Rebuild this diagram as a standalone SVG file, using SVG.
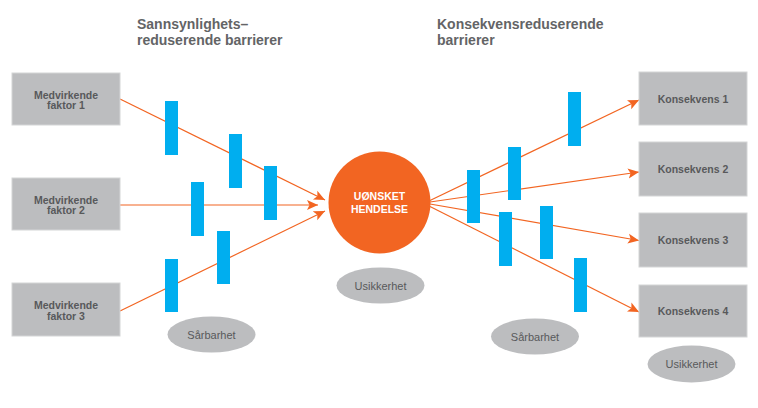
<svg xmlns="http://www.w3.org/2000/svg" width="758" height="408" viewBox="0 0 758 408">
<defs>
<marker id="arr" markerUnits="userSpaceOnUse" markerWidth="12" markerHeight="12" viewBox="0 0 12 12" refX="11" refY="6" orient="auto">
<path d="M0,1 L11,6 L0,11 L2.5,6 Z" fill="#f26522"/>
</marker>
<style>
.box{fill:#bcbdbf;stroke:#d4d5d6;stroke-width:1}
.bar{fill:#00aeef}
.ell{fill:#bcbdbf}
.ln{stroke:#f26522;stroke-width:1.2;fill:none;marker-end:url(#arr)}
.lt{font-family:"Liberation Sans",Arial,sans-serif;font-size:10.5px;font-weight:bold;fill:#58595b;text-anchor:middle}
.et{font-family:"Liberation Sans",Arial,sans-serif;font-size:11px;fill:#58595b;text-anchor:middle}
.tt{font-family:"Liberation Sans",Arial,sans-serif;font-size:14px;font-weight:bold;fill:#636466}
.ct{font-family:"Liberation Sans",Arial,sans-serif;font-size:10.5px;font-weight:bold;fill:#ffffff;text-anchor:middle}
</style>
</defs>
<rect width="758" height="408" fill="#ffffff"/>
<g id="titles">
<text class="tt" x="137" y="29">Sannsynlighets–</text>
<text class="tt" x="137" y="44.5">reduserende barrierer</text>
<text class="tt" x="437" y="29">Konsekvensreduserende</text>
<text class="tt" x="437" y="44.5">barrierer</text>
</g>
<g id="connectors">
<line class="ln" x1="120" y1="99" x2="325" y2="200"/>
<line class="ln" x1="120" y1="205" x2="318" y2="205"/>
<line class="ln" x1="120" y1="311" x2="325" y2="211"/>
<line class="ln" x1="430" y1="200.5" x2="639" y2="100"/>
<line class="ln" x1="430" y1="202" x2="639" y2="172"/>
<line class="ln" x1="430" y1="204" x2="639" y2="240.5"/>
<line class="ln" x1="430" y1="206.5" x2="639" y2="312"/>
</g>
<g id="barriers">
<rect class="bar" x="165" y="101" width="13" height="54"/>
<rect class="bar" x="229" y="134" width="13" height="54"/>
<rect class="bar" x="264" y="166" width="13" height="54"/>
<rect class="bar" x="191" y="182" width="13" height="54"/>
<rect class="bar" x="217" y="231" width="13" height="53"/>
<rect class="bar" x="165" y="259" width="13" height="53"/>
<rect class="bar" x="568" y="92" width="13" height="54"/>
<rect class="bar" x="508" y="147" width="13" height="53"/>
<rect class="bar" x="467" y="170" width="13" height="53"/>
<rect class="bar" x="499" y="212" width="13" height="54"/>
<rect class="bar" x="540" y="206" width="13" height="53"/>
<rect class="bar" x="574" y="258" width="13" height="54"/>
</g>
<g id="faktor1"><rect class="box" x="12" y="73" width="108" height="52"/><text class="lt" x="66" y="98.5">Medvirkende</text><text class="lt" x="66" y="109">faktor 1</text></g>
<g id="faktor2"><rect class="box" x="12" y="178" width="108" height="52"/><text class="lt" x="66" y="203.5">Medvirkende</text><text class="lt" x="66" y="214">faktor 2</text></g>
<g id="faktor3"><rect class="box" x="12" y="283" width="108" height="53"/><text class="lt" x="66" y="309">Medvirkende</text><text class="lt" x="66" y="319.5">faktor 3</text></g>
<g id="hendelse"><circle cx="379.5" cy="202.5" r="51" fill="#f26522"/><text class="ct" x="379.5" y="200">UØNSKET</text><text class="ct" x="379.5" y="212.5">HENDELSE</text></g>
<g id="konsekvens1"><rect class="box" x="639" y="72" width="108" height="53"/><text class="lt" x="693" y="102.5">Konsekvens 1</text></g>
<g id="konsekvens2"><rect class="box" x="639" y="142" width="108" height="54"/><text class="lt" x="693" y="172.5">Konsekvens 2</text></g>
<g id="konsekvens3"><rect class="box" x="639" y="213" width="108" height="54"/><text class="lt" x="693" y="243.5">Konsekvens 3</text></g>
<g id="konsekvens4"><rect class="box" x="639" y="285" width="108" height="52"/><text class="lt" x="693" y="314.5">Konsekvens 4</text></g>
<g id="usikkerhet1"><ellipse class="ell" cx="380.5" cy="285.5" rx="44" ry="18"/><text class="et" x="380.5" y="289.5">Usikkerhet</text></g>
<g id="sarbarhet1"><ellipse class="ell" cx="211.5" cy="334.5" rx="44" ry="18"/><text class="et" x="211.5" y="338.5">Sårbarhet</text></g>
<g id="sarbarhet2"><ellipse class="ell" cx="535" cy="336.5" rx="44" ry="18"/><text class="et" x="535" y="340.5">Sårbarhet</text></g>
<g id="usikkerhet2"><ellipse class="ell" cx="691.5" cy="364" rx="44" ry="18.5"/><text class="et" x="691.5" y="368">Usikkerhet</text></g>
</svg>
